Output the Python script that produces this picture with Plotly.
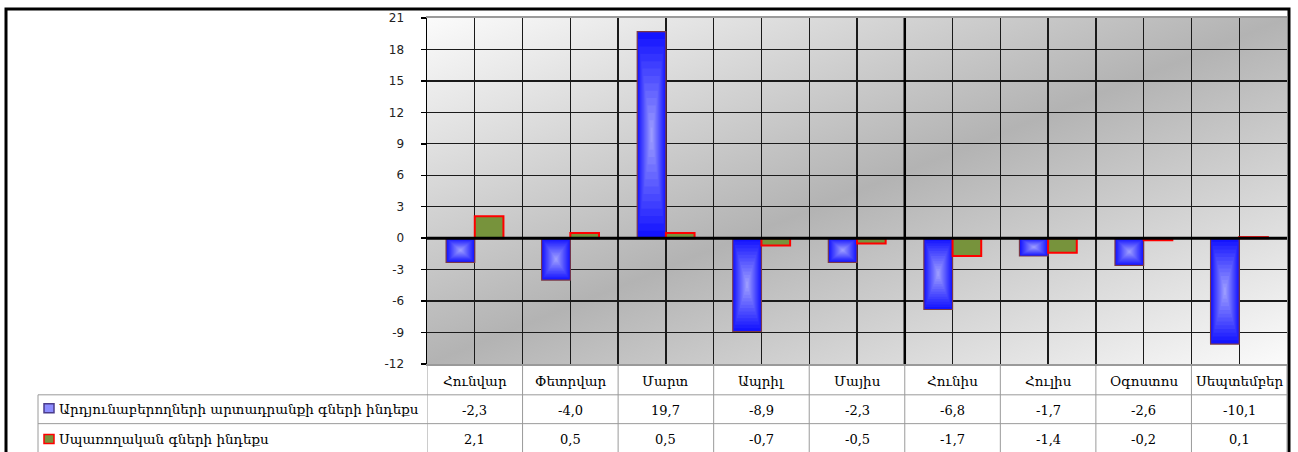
import base64
import plotly.graph_objects as go

# ---------------- data ----------------
categories = ["Հունվար", "Փետրվար", "Մարտ", "Ապրիլ", "Մայիս",
              "Հունիս", "Հուլիս", "Օգոստոս", "Սեպտեմբեր"]
series_names = ["Արդյունաբերողների արտադրանքի գների ինդեքս",
                "Սպառողական գների ինդեքս"]
ppi_values = [-2.3, -4.0, 19.7, -8.9, -2.3, -6.8, -1.7, -2.6, -10.1]
cpi_values = [2.1, 0.5, 0.5, -0.7, -0.5, -1.7, -1.4, -0.2, 0.1]
y_ticks = [-12, -9, -6, -3, 0, 3, 6, 9, 12, 15, 18, 21]

# ---------------- geometry (pixels) ----------------
FW, FH = 1298, 452
L, R, T, B = 427, 1287, 16, 364
W, H = R - L, B - T


def px(x):
    return (x - L) / W


def py(y):
    return (B - y) / H


def fmt(v):
    return f"{v:.1f}".replace(".", ",")


xs = list(range(len(categories)))
BAR_W = 0.3

fig = go.Figure()

# blue series: layered bars to imitate a "from centre" gradient
n_layers = 14
c0 = (20, 20, 255)
c1 = (155, 155, 255)
for k in range(n_layers):
    s = 1 - k / n_layers
    t = k / (n_layers - 1)
    col = "rgb({},{},{})".format(*[round(a + (b - a) * t) for a, b in zip(c0, c1)])
    w = BAR_W * s
    centre = -BAR_W / 2
    fig.add_trace(go.Bar(
        x=xs,
        y=[v * s for v in ppi_values],
        base=[v * (1 - s) / 2 for v in ppi_values],
        width=w,
        offset=centre - w / 2,
        marker=dict(color=col,
                    line=dict(color="#7a3848" if k == 0 else col,
                              width=1.2 if k == 0 else 0)),
        showlegend=False,
        hoverinfo="skip",
    ))

# green series
fig.add_trace(go.Bar(
    x=xs,
    y=cpi_values,
    width=BAR_W,
    offset=0,
    marker=dict(color="#77933C", line=dict(color="#FF0000", width=2)),
    showlegend=False,
    hoverinfo="skip",
))

# background gradient
svg = ('<svg xmlns="http://www.w3.org/2000/svg" width="200" height="200" '
       'viewBox="0 0 200 200" preserveAspectRatio="none"><defs>'
       '<linearGradient id="g" x1="0" y1="0" x2="1" y2="1">'
       '<stop offset="0" stop-color="#fbfbfb"/>'
       '<stop offset="0.5" stop-color="#b3b3b3"/>'
       '<stop offset="1" stop-color="#fbfbfb"/>'
       '</linearGradient></defs>'
       '<rect width="200" height="200" fill="url(#g)"/></svg>')
uri = "data:image/svg+xml;base64," + base64.b64encode(svg.encode()).decode()

shapes = []
GRAY = "#9a9a9a"
# zero line
shapes.append(dict(type="line", xref="x domain", yref="y", x0=0, x1=1, y0=0, y1=0,
                   line=dict(color="black", width=3), layer="above"))
# thicker divider line
shapes.append(dict(type="line", xref="x", yref="y domain", x0=4.5, x1=4.5, y0=0, y1=1,
                   line=dict(color="black", width=2.5), layer="above"))
# table horizontal lines
for yy in (395, 424):
    shapes.append(dict(type="line", xref="paper", yref="paper", x0=px(38), x1=px(R),
                       y0=py(yy), y1=py(yy), line=dict(color=GRAY, width=1)))
# table vertical lines
shapes.append(dict(type="line", xref="paper", yref="paper", x0=px(38), x1=px(38),
                   y0=py(395), y1=py(470), line=dict(color=GRAY, width=1)))
for k in range(len(categories) + 1):
    shapes.append(dict(type="line", xref="x", yref="paper", x0=k - 0.5, x1=k - 0.5,
                       y0=py(B), y1=py(470), line=dict(color=GRAY, width=1)))
# legend keys
shapes.append(dict(type="rect", xref="paper", yref="paper", x0=px(44), x1=px(54),
                   y0=py(413), y1=py(404), fillcolor="#8c8cff",
                   line=dict(color="#4b3c8c", width=1.5)))
shapes.append(dict(type="rect", xref="paper", yref="paper", x0=px(44), x1=px(54),
                   y0=py(444), y1=py(435), fillcolor="#77933C",
                   line=dict(color="#FF0000", width=1.5)))
# outer frame
shapes.append(dict(type="rect", xref="paper", yref="paper", x0=px(6), x1=px(1289),
                   y0=py(7), y1=py(480), line=dict(color="black", width=3),
                   fillcolor="rgba(0,0,0,0)"))

annotations = []
TFONT = dict(family="DejaVu Serif", size=13.5, color="black")
NFONT = dict(family="DejaVu Serif", size=13, color="black")
for i, c in enumerate(categories):
    annotations.append(dict(x=i, y=py(381), xref="x", yref="paper", text=c,
                            showarrow=False, font=TFONT, xanchor="center", yanchor="middle"))
for i, v in enumerate(ppi_values):
    annotations.append(dict(x=i, y=py(411), xref="x", yref="paper", text=fmt(v),
                            showarrow=False, font=NFONT, xanchor="center", yanchor="middle"))
for i, v in enumerate(cpi_values):
    annotations.append(dict(x=i, y=py(440), xref="x", yref="paper", text=fmt(v),
                            showarrow=False, font=NFONT, xanchor="center", yanchor="middle"))
for name, yy in zip(series_names, (409, 439)):
    annotations.append(dict(x=px(57), y=py(yy), xref="paper", yref="paper", text=name,
                            showarrow=False, font=TFONT, xanchor="left", yanchor="middle"))

fig.update_layout(
    width=FW, height=FH,
    margin=dict(l=L, r=FW - R, t=T, b=FH - B, pad=0),
    paper_bgcolor="white",
    plot_bgcolor="rgba(0,0,0,0)",
    barmode="overlay",
    showlegend=False,
    images=[dict(source=uri, xref="x domain", yref="y domain", x=0, y=1,
                 sizex=1, sizey=1, sizing="stretch", layer="below",
                 xanchor="left", yanchor="top")],
    shapes=shapes,
    annotations=annotations,
    xaxis=dict(range=[-0.5, len(categories) - 0.5], tickmode="linear", tick0=-0.5,
               dtick=0.5, showticklabels=False, ticks="", showgrid=True,
               gridcolor="#1a1a1a", gridwidth=1.3, zeroline=False,
               showline=True, linecolor=GRAY, linewidth=2, mirror=True),
    yaxis=dict(range=[-12, 21], tickmode="array", tickvals=y_ticks,
               ticktext=[str(v) for v in y_ticks], showgrid=True,
               gridcolor="#1a1a1a", gridwidth=1.3, zeroline=False,
               showline=True, linecolor="black", linewidth=1.5,
               ticks="outside", ticklen=5, tickwidth=1.5, tickcolor="black",
               ticklabelstandoff=14,
               tickfont=dict(family="DejaVu Sans", size=12, color="#222")),
)

fig.write_html("out.html",
               config={"displayModeBar": False, "staticPlot": True},
               post_script="document.body.style.margin='0';"
                           "document.body.style.overflow='hidden';")
